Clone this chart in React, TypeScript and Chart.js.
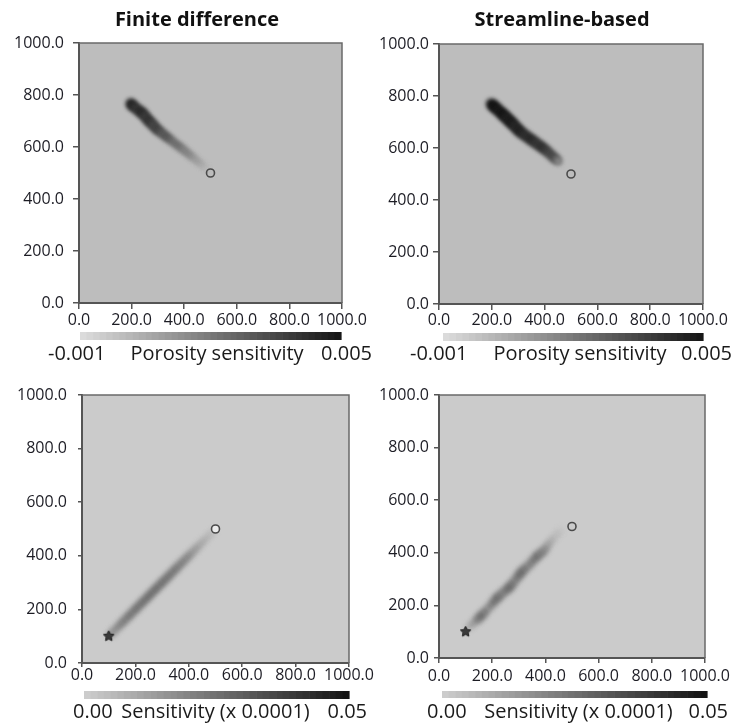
import React, { useEffect, useRef } from "react";
import { Chart, registerables } from "chart.js";
Chart.register(...registerables);

// ---------------- Data ----------------
const axisTicks = [0, 200, 400, 600, 800, 1000];
const panelTitles = ["Finite difference", "Streamline-based", "", ""];
const porosityRange = [-0.001, 0.005];
const sensitivityRange = [0.0, 0.05];
const porosityBarLabels = ["-0.001", "Porosity sensitivity", "0.005"];
const sensitivityBarLabels = ["0.00", "Sensitivity (x 0.0001)", "0.05"];

const injectorX = [500];
const injectorY = [500];
const producerX = [100];
const producerY = [100];

// Finite difference – porosity sensitivity
const fdPorosityX = [196, 201, 210, 220, 230, 240, 248, 255, 262, 270, 278, 285, 292, 300, 310, 319, 328, 338, 350, 361, 372, 384, 394, 403, 412, 422, 432, 441, 450, 460, 469, 478, 488];
const fdPorosityY = [768, 762, 754, 746, 738, 731, 722, 713, 705, 696, 688, 681, 673, 665, 658, 650, 643, 635, 626, 617, 609, 600, 592, 585, 577, 569, 561, 553, 546, 538, 530, 522, 514];
const fdPorosityV = [0.0038, 0.0046, 0.0042, 0.004, 0.0042, 0.0044, 0.0041, 0.0038, 0.004, 0.0041, 0.0038, 0.0035, 0.0036, 0.0037, 0.0033, 0.003, 0.003, 0.0031, 0.0027, 0.0024, 0.0024, 0.0024, 0.002, 0.0018, 0.0018, 0.0017, 0.0014, 0.0011, 0.001, 0.0009, 0.0006, 0.0004, 0.0002];

// Streamline-based – porosity sensitivity
const slPorosityX = [198, 206, 215, 225, 235, 244, 252, 260, 268, 275, 283, 291, 299, 307, 318, 329, 340, 351, 362, 373, 384, 395, 406, 417, 428, 439, 447, 453];
const slPorosityY = [770, 762, 754, 745, 736, 727, 720, 712, 704, 697, 689, 680, 672, 663, 655, 647, 639, 631, 623, 615, 607, 599, 590, 580, 570, 560, 554, 548];
const slPorosityV = [0.0046, 0.0053, 0.005, 0.0048, 0.0049, 0.005, 0.0048, 0.0046, 0.0047, 0.0048, 0.0046, 0.0044, 0.0045, 0.0046, 0.0044, 0.0042, 0.0043, 0.0044, 0.0042, 0.004, 0.0041, 0.0042, 0.0039, 0.0036, 0.0035, 0.0034, 0.0026, 0.0016];

// Finite difference – sensitivity (x 0.0001)
const fdSensX = [108, 120, 132, 145, 157, 170, 182, 195, 207, 220, 232, 245, 257, 270, 282, 295, 307, 320, 332, 345, 357, 370, 382, 395, 407, 420, 432, 445, 457, 470, 482, 492];
const fdSensY = [108, 120, 132, 145, 157, 170, 182, 195, 207, 220, 232, 245, 257, 270, 282, 295, 307, 320, 332, 345, 357, 370, 382, 395, 407, 420, 432, 445, 457, 470, 482, 492];
const fdSensV = [0.02, 0.018, 0.02, 0.022, 0.023, 0.024, 0.025, 0.025, 0.026, 0.026, 0.026, 0.027, 0.027, 0.027, 0.027, 0.026, 0.026, 0.026, 0.025, 0.025, 0.024, 0.023, 0.022, 0.021, 0.019, 0.017, 0.015, 0.013, 0.011, 0.009, 0.007, 0.005];

// Streamline-based – sensitivity (x 0.0001)
const slSensX = [112, 125, 140, 150, 161, 175, 190, 204, 217, 230, 242, 255, 267, 278, 290, 300, 311, 325, 340, 353, 367, 380, 392, 403, 415, 428, 442, 452, 462];
const slSensY = [118, 128, 142, 152, 163, 178, 195, 211, 227, 238, 250, 260, 271, 285, 300, 314, 328, 341, 355, 370, 385, 396, 406, 420, 437, 452, 468, 478, 488];
const slSensV = [0.01, 0.014, 0.019, 0.023, 0.027, 0.024, 0.021, 0.025, 0.028, 0.025, 0.022, 0.025, 0.028, 0.025, 0.023, 0.026, 0.028, 0.025, 0.022, 0.024, 0.027, 0.024, 0.022, 0.019, 0.014, 0.01, 0.007, 0.005, 0.003];

// ---------------- Styling helpers ----------------
const W = 739;
const H = 724;
const FONT = '"Open Sans", "DejaVu Sans", sans-serif';

function makeCmap(range: number[], light: number, dark: number) {
  return (v: number) => {
    let t = (v - range[0]) / (range[1] - range[0]);
    t = Math.max(0, Math.min(1, t));
    const g = Math.round(light - t * (light - dark));
    return `rgb(${g},${g},${g})`;
  };
}
const porosityCmap = makeCmap(porosityRange, 222, 20);
const sensCmap = makeCmap(sensitivityRange, 206, 18);

function makeStar(r: number) {
  const c = document.createElement("canvas");
  const s = Math.ceil(r * 2 + 4);
  c.width = s;
  c.height = s;
  const g = c.getContext("2d")!;
  g.beginPath();
  for (let i = 0; i < 10; i++) {
    const ang = -Math.PI / 2 + (i * Math.PI) / 5;
    const rr = i % 2 === 0 ? r : r * 0.5;
    g.lineTo(s / 2 + rr * Math.cos(ang), s / 2 + rr * Math.sin(ang));
  }
  g.closePath();
  g.fillStyle = "#3a3a3a";
  g.fill();
  g.strokeStyle = "#222";
  g.lineWidth = 1;
  g.stroke();
  return c;
}

type Panel = {
  box: [number, number, number, number];
  title: string;
  titleX: number;
  titleY: number;
  bg: string;
  range: number[];
  cmap: (v: number) => string;
  barLabels: string[];
  bar: [number, number, number, number];
  labelY: number;
  labelLeft: number;
  labelCenter: number;
  labelRight: number;
  yTick: number;
  yPad: number;
  xTick: number;
  xPad: number;
  xs: number[];
  ys: number[];
  vs: number[];
  rMin: number;
  rMax: number;
  vMax: number;
  blur: number;
  producer: boolean;
  circleFill: string;
};

const panels: Panel[] = [
  {
    box: [79, 43, 342, 303], title: panelTitles[0], titleX: 197, titleY: 26, bg: "#bdbdbd",
    range: porosityRange, cmap: porosityCmap, barLabels: porosityBarLabels,
    bar: [80, 332, 341, 340], labelY: 360, labelLeft: 48, labelCenter: 217, labelRight: 372,
    yTick: 6, yPad: 9, xTick: 6, xPad: 3,
    xs: fdPorosityX, ys: fdPorosityY, vs: fdPorosityV, rMin: 2.5, rMax: 5.2, vMax: 0.0045, blur: 2.2,
    producer: false, circleFill: "rgba(0,0,0,0)",
  },
  {
    box: [439, 44, 703, 304], title: panelTitles[1], titleX: 562, titleY: 26, bg: "#bdbdbd",
    range: porosityRange, cmap: porosityCmap, barLabels: porosityBarLabels,
    bar: [443, 333, 703, 341], labelY: 360, labelLeft: 410, labelCenter: 580, labelRight: 732,
    yTick: 6, yPad: 4, xTick: 6, xPad: 2,
    xs: slPorosityX, ys: slPorosityY, vs: slPorosityV, rMin: 3, rMax: 5.5, vMax: 0.005, blur: 2.2,
    producer: false, circleFill: "rgba(0,0,0,0)",
  },
  {
    box: [82, 395, 349, 663], title: panelTitles[2], titleX: 0, titleY: 0, bg: "#cbcbcb",
    range: sensitivityRange, cmap: sensCmap, barLabels: sensitivityBarLabels,
    bar: [84, 691, 349, 699], labelY: 718, labelLeft: 73, labelCenter: 215.5, labelRight: 367,
    yTick: 4, yPad: 11, xTick: 4, xPad: 0,
    xs: fdSensX, ys: fdSensY, vs: fdSensV, rMin: 2.5, rMax: 4.2, vMax: 0.028, blur: 2.4,
    producer: true, circleFill: "rgba(240,240,240,0.9)",
  },
  {
    box: [439, 395, 705, 658], title: panelTitles[3], titleX: 0, titleY: 0, bg: "#cbcbcb",
    range: sensitivityRange, cmap: sensCmap, barLabels: sensitivityBarLabels,
    bar: [442, 691, 707, 698], labelY: 718, labelLeft: 427, labelCenter: 578.5, labelRight: 728,
    yTick: 5, yPad: 5, xTick: 5, xPad: 5,
    xs: slSensX, ys: slSensY, vs: slSensV, rMin: 2.5, rMax: 4.5, vMax: 0.028, blur: 2.4,
    producer: true, circleFill: "rgba(0,0,0,0)",
  },
];

const decoPlugin = {
  id: "deco",
  beforeDraw(chart: any, _args: any, opts: any) {
    const { ctx, chartArea: a } = chart;
    ctx.save();
    ctx.fillStyle = opts.bg;
    ctx.fillRect(a.left, a.top, a.right - a.left, a.bottom - a.top);
    ctx.restore();
  },
  beforeDatasetDraw(chart: any, args: any) {
    const ds = chart.data.datasets[args.index];
    if (ds.blur) {
      chart.ctx.save();
      chart.ctx.filter = `blur(${ds.blur}px)`;
    }
  },
  afterDatasetDraw(chart: any, args: any) {
    const ds = chart.data.datasets[args.index];
    if (ds.blur) chart.ctx.restore();
  },
  afterDraw(chart: any, _args: any, opts: any) {
    const { ctx, chartArea: a } = chart;
    const p: Panel = opts.panel;
    ctx.save();
    ctx.strokeStyle = "#6a6a6a";
    ctx.lineWidth = 1.5;
    ctx.beginPath();
    ctx.moveTo(a.left, a.top);
    ctx.lineTo(a.right, a.top);
    ctx.lineTo(a.right, a.bottom);
    ctx.stroke();
    if (p.title) {
      ctx.fillStyle = "#111";
      ctx.font = `bold 20px ${FONT}`;
      ctx.textAlign = "center";
      ctx.textBaseline = "alphabetic";
      ctx.fillText(p.title, p.titleX, p.titleY);
    }
    const [x0, y0, x1, y1] = p.bar;
    const n = 40;
    const w = (x1 - x0) / n;
    for (let i = 0; i < n; i++) {
      const v = p.range[0] + ((i + 0.5) / n) * (p.range[1] - p.range[0]);
      ctx.fillStyle = p.cmap(v);
      ctx.fillRect(x0 + i * w, y0, w + 0.6, y1 - y0);
    }
    ctx.fillStyle = "#1a1a1a";
    ctx.font = `20px ${FONT}`;
    ctx.textBaseline = "alphabetic";
    ctx.textAlign = "left";
    ctx.fillText(p.barLabels[0], p.labelLeft, p.labelY);
    ctx.textAlign = "center";
    ctx.fillText(p.barLabels[1], p.labelCenter, p.labelY);
    ctx.textAlign = "right";
    ctx.fillText(p.barLabels[2], p.labelRight, p.labelY);
    ctx.restore();
  },
};

function PanelChart({ p, star }: { p: Panel; star: HTMLCanvasElement | null }) {
  const ref = useRef<HTMLCanvasElement | null>(null);
  useEffect(() => {
    if (!ref.current) return;
    const [L, T, R, B] = p.box;
    const yW = 76;
    const xH = 30;
    const streak = p.xs.map((x, i) => ({ x, y: p.ys[i], v: p.vs[i] }));
    const datasets: any[] = [
      {
        label: "injector",
        data: injectorX.map((x, i) => ({ x, y: injectorY[i] })),
        pointStyle: "circle",
        pointRadius: 4,
        borderColor: "#4a4a4a",
        borderWidth: 1.6,
        backgroundColor: p.circleFill,
      },
    ];
    if (p.producer && star) {
      datasets.push({
        label: "producer",
        data: producerX.map((x, i) => ({ x, y: producerY[i] })),
        pointStyle: star,
        pointRadius: 5,
        borderWidth: 0,
        backgroundColor: "#333",
      });
    }
    datasets.push({
      label: "sensitivity",
      data: streak,
      blur: p.blur,
      pointStyle: "circle",
      borderWidth: 0,
      pointRadius: (c: any) => {
        const t = Math.max(0, Math.min(1, (c.raw?.v ?? 0) / p.vMax));
        return p.rMin + t * (p.rMax - p.rMin);
      },
      backgroundColor: (c: any) => p.cmap(c.raw?.v ?? 0),
    });
    const tickFont = { family: FONT, size: 16, lineHeight: 1 };
    const chart = new Chart(ref.current, {
      type: "scatter",
      data: { datasets },
      plugins: [decoPlugin as any],
      options: {
        animation: false,
        responsive: false,
        events: [],
        layout: { padding: { left: L - yW, top: T, right: W - R, bottom: H - B - xH } },
        plugins: {
          legend: { display: false },
          tooltip: { enabled: false },
          deco: { panel: p, bg: p.bg },
        } as any,
        scales: {
          x: {
            type: "linear",
            min: 0,
            max: 1000,
            afterFit: (s: any) => { s.height = xH; },
            afterBuildTicks: (s: any) => { s.ticks = axisTicks.map((v) => ({ value: v })); },
            ticks: {
              callback: (v: any) => Number(v).toFixed(1),
              font: tickFont,
              color: "#1c1c24",
              padding: p.xPad,
              maxRotation: 0,
              autoSkip: false,
            },
            grid: { drawOnChartArea: false, drawTicks: true, tickLength: p.xTick, color: "#555", lineWidth: 1.5 },
            border: { display: true, color: "#555", width: 2 },
          },
          y: {
            type: "linear",
            min: 0,
            max: 1000,
            afterFit: (s: any) => { s.width = yW; },
            afterBuildTicks: (s: any) => { s.ticks = axisTicks.map((v) => ({ value: v })); },
            ticks: {
              callback: (v: any) => Number(v).toFixed(1),
              font: tickFont,
              color: "#1c1c24",
              padding: p.yPad,
              autoSkip: false,
            },
            grid: { drawOnChartArea: false, drawTicks: true, tickLength: p.yTick, color: "#555", lineWidth: 1.5 },
            border: { display: true, color: "#555", width: 2 },
          },
        },
      } as any,
    });
    return () => chart.destroy();
  }, [p, star]);
  return (
    <canvas
      ref={ref}
      width={W}
      height={H}
      style={{ position: "absolute", left: 0, top: 0, width: W, height: H }}
    />
  );
}

export default function App() {
  const starRef = useRef<HTMLCanvasElement | null>(null);
  if (!starRef.current && typeof document !== "undefined") starRef.current = makeStar(5.5);
  return (
    <div style={{ position: "absolute", left: 0, top: 0, width: W, height: H, background: "#fff", overflow: "hidden" }}>
      {panels.map((p, i) => (
        <PanelChart key={i} p={p} star={starRef.current} />
      ))}
    </div>
  );
}
